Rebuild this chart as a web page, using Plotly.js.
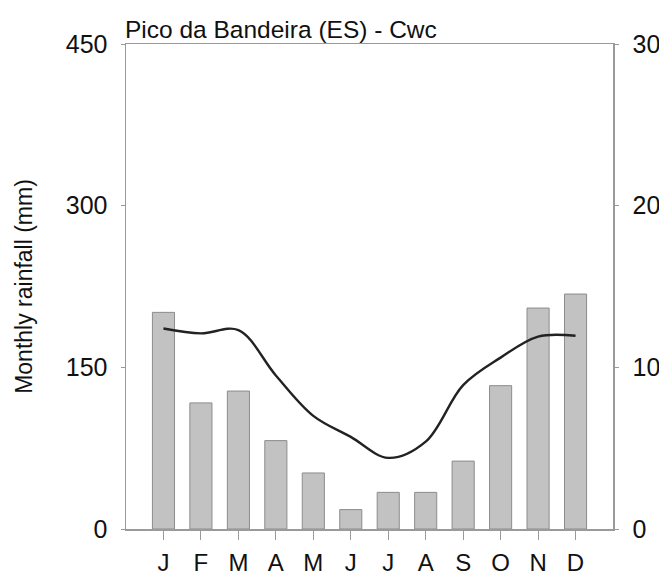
<!DOCTYPE html>
<html>
<head>
<meta charset="utf-8">
<script src="https://cdn.plot.ly/plotly-3.0.1.min.js"></script>
<style>
  html, body { margin: 0; padding: 0; background: #fff; }
  #chart { width: 659px; height: 575px; }
</style>
</head>
<body>
<div id="chart"></div>
<script>
// Climate diagram: monthly rainfall (bars, left axis) and mean temperature (line, right axis)
const months = ["J", "F", "M", "A", "M", "J", "J", "A", "S", "O", "N", "D"];
const rainfall = [201, 117, 128, 82, 52, 18, 34, 34, 63, 133, 205, 218];
const temperature = [12.4, 12.1, 12.3, 9.5, 7.0, 5.7, 4.4, 5.4, 8.9, 10.6, 11.9, 11.95];
const leftTicks = [0, 150, 300, 450];
const rightTicks = [0, 10, 20, 30];

// positions along the category axis (0..11), labelled with month initials
const xPos = months.map((_, i) => i);

const fontFamily = "Liberation Sans, Arial, sans-serif";
const axisGrey = "#9a9a9a";

const bars = {
  type: "bar",
  x: xPos,
  y: rainfall,
  width: 0.59,
  marker: { color: "#c2c2c2", line: { color: "#8c8c8c", width: 1 } },
  hoverinfo: "skip",
  showlegend: false
};

const tempLine = {
  type: "scatter",
  mode: "lines",
  x: xPos,
  y: temperature,
  yaxis: "y2",
  line: { color: "#222222", width: 2.4, shape: "spline", smoothing: 1 },
  hoverinfo: "skip",
  showlegend: false
};

const layout = {
  width: 659,
  height: 575,
  margin: { l: 126, r: 46, t: 44, b: 46 },
  paper_bgcolor: "#ffffff",
  plot_bgcolor: "#ffffff",
  font: { family: fontFamily, color: "#111111", size: 24 },
  title: {
    text: "Pico da Bandeira (ES) - Cwc",
    font: { family: fontFamily, size: 24.5, color: "#111111" },
    x: 125 / 659,
    xref: "container",
    xanchor: "left",
    y: 1 - 29 / 575,
    yref: "container",
    yanchor: "middle"
  },
  xaxis: {
    range: [-1, 12],
    tickvals: xPos,
    ticktext: months,
    ticks: "outside",
    ticklen: 9,
    tickwidth: 1,
    tickcolor: axisGrey,
    showline: true,
    linecolor: axisGrey,
    linewidth: 1.5,
    mirror: true,
    showgrid: false,
    zeroline: false,
    tickfont: { size: 24 },
    ticklabelstandoff: 3,
    fixedrange: true
  },
  yaxis: {
    range: [0, 450],
    tickvals: leftTicks,
    ticks: "outside",
    ticklen: 4,
    tickwidth: 1,
    tickcolor: axisGrey,
    showline: true,
    linecolor: axisGrey,
    linewidth: 1.5,
    showgrid: false,
    zeroline: false,
    tickfont: { size: 25 },
    ticklabelstandoff: 8,
    title: {
      text: "Monthly rainfall (mm)",
      font: { size: 23 },
      standoff: 26
    },
    fixedrange: true
  },
  yaxis2: {
    range: [0, 30],
    tickvals: rightTicks,
    overlaying: "y",
    side: "right",
    ticks: "outside",
    ticklen: 4,
    tickwidth: 1,
    tickcolor: axisGrey,
    showline: true,
    linecolor: axisGrey,
    linewidth: 1.5,
    showgrid: false,
    zeroline: false,
    tickfont: { size: 25 },
    ticklabelstandoff: 9,
    fixedrange: true
  }
};

Plotly.newPlot("chart", [bars, tempLine], layout, { displayModeBar: false, staticPlot: true });
</script>
</body>
</html>
